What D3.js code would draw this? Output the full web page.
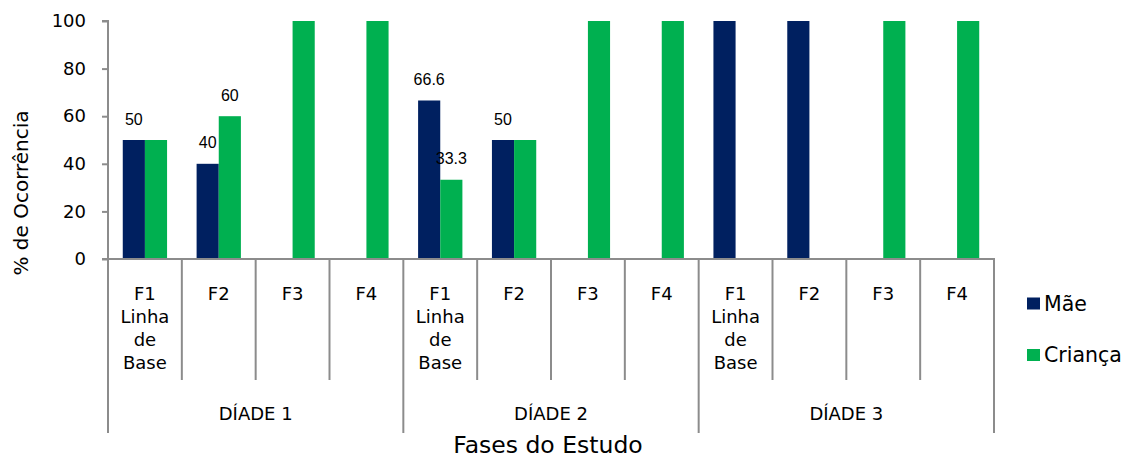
<!DOCTYPE html>
<html>
<head>
<meta charset="utf-8">
<script src="https://cdn.jsdelivr.net/npm/d3@7"></script>
<style>
  body { margin: 0; background: #fff; }
  svg { display: block; }
</style>
</head>
<body>
<svg id="chart" width="1126" height="458"></svg>
<script>
// ---- data ----
const dyads = ["DÍADE 1", "DÍADE 2", "DÍADE 3"];
const phases = [["F1", "Linha", "de", "Base"], ["F2"], ["F3"], ["F4"]];
const seriesNames = ["Mãe", "Criança"];
const maeValues = [50, 40, null, null, 66.6, 50, null, null, 100, 100, null, null];
const criancaValues = [50, 60, 100, 100, 33.3, 50, 100, 100, null, null, 100, 100];
const maeLabels = ["50", "40", null, null, "66.6", "50", null, null, null, null, null, null];
const criancaLabels = [null, "60", null, null, "33.3", null, null, null, null, null, null, null];
const yTicks = [0, 20, 40, 60, 80, 100];
const yTitle = "% de Ocorrência";
const xTitle = "Fases do Estudo";

// ---- layout ----
const svg = d3.select("#chart");
const pLeft = 108, pRight = 994, pTop = 21, pBottom = 259;
const colors = ["#002060", "#00B050"];
const axisColor = "#8c8c8c";
const mainFont = "'DejaVu Sans', Verdana, sans-serif";
const labelFont = "'Liberation Sans', Arial, sans-serif";

const cats = [];
dyads.forEach((d, di) => phases.forEach((p, pi) => cats.push({ key: di + "-" + pi, dyad: d, di, phase: p })));

const x = d3.scaleBand().domain(cats.map(c => c.key)).range([pLeft, pRight]).padding(0);
const y = d3.scaleLinear().domain([0, 100]).range([pBottom, pTop]);
const bw = x.bandwidth();
const sub = d3.scaleBand().domain(seriesNames).range([0.2 * bw, 0.8 * bw]).padding(0);

const seriesData = [maeValues, criancaValues];
const seriesLabels = [maeLabels, criancaLabels];

// bars
seriesNames.forEach((s, si) => {
  svg.append("g").selectAll("rect")
    .data(cats.map((c, i) => ({ c, v: seriesData[si][i] })).filter(d => d.v != null))
    .join("rect")
    .attr("x", d => x(d.c.key) + sub(s))
    .attr("width", sub.bandwidth())
    .attr("y", d => y(d.v))
    .attr("height", d => y(0) - y(d.v))
    .attr("fill", colors[si]);
});

// data labels
seriesNames.forEach((s, si) => {
  svg.append("g").selectAll("text")
    .data(cats.map((c, i) => ({ c, v: seriesData[si][i], l: seriesLabels[si][i] })).filter(d => d.l != null))
    .join("text")
    .attr("x", d => x(d.c.key) + sub(s) + sub.bandwidth() / 2)
    .attr("y", d => y(d.v) - 21)
    .attr("text-anchor", "middle")
    .attr("dominant-baseline", "central")
    .attr("font-family", labelFont)
    .attr("font-size", 16)
    .attr("fill", "#000")
    .text(d => d.l);
});

// y axis
const yAxis = d3.axisLeft(y).tickValues(yTicks).tickSize(6).tickPadding(16);
const gy = svg.append("g").attr("transform", `translate(${pLeft},0)`).call(yAxis);
gy.select(".domain").attr("stroke", axisColor).attr("stroke-width", 2).attr("d", `M-6,${pTop}H0V${pBottom}`);
gy.selectAll(".tick line").attr("stroke", axisColor).attr("stroke-width", 2);
gy.selectAll(".tick text").attr("font-family", mainFont).attr("font-size", 18).attr("fill", "#000");

// x axis line
svg.append("line")
  .attr("x1", pLeft - 6).attr("x2", pRight + 1).attr("y1", pBottom).attr("y2", pBottom)
  .attr("stroke", axisColor).attr("stroke-width", 2);

// category dividers
const boundaries = cats.map(c => x(c.key)).concat([pRight]);
svg.append("g").selectAll("line")
  .data(boundaries)
  .join("line")
  .attr("x1", d => d).attr("x2", d => d)
  .attr("y1", pBottom)
  .attr("y2", (d, i) => (i % phases.length === 0) ? 433 : 380)
  .attr("stroke", axisColor).attr("stroke-width", 2);

// phase labels
const pl = svg.append("g").selectAll("text")
  .data(cats)
  .join("text")
  .attr("x", d => x(d.key) + bw / 2)
  .attr("y", 293)
  .attr("text-anchor", "middle")
  .attr("dominant-baseline", "central")
  .attr("font-family", mainFont)
  .attr("font-size", 18)
  .attr("fill", "#000");
pl.selectAll("tspan")
  .data(d => d.phase)
  .join("tspan")
  .attr("x", function () { return d3.select(this.parentNode).attr("x"); })
  .attr("dy", (d, i) => i === 0 ? 0 : 23)
  .text(d => d);

// dyad labels
svg.append("g").selectAll("text")
  .data(dyads)
  .join("text")
  .attr("x", (d, i) => (x(i + "-0") + x(i + "-" + (phases.length - 1)) + bw) / 2)
  .attr("y", 413)
  .attr("text-anchor", "middle")
  .attr("dominant-baseline", "central")
  .attr("font-family", mainFont)
  .attr("font-size", 18)
  .attr("fill", "#000")
  .text(d => d);

// axis titles
svg.append("text")
  .attr("x", (pLeft + pRight) / 2 - 3).attr("y", 445)
  .attr("text-anchor", "middle").attr("dominant-baseline", "central")
  .attr("font-family", mainFont).attr("font-size", 23.5).attr("fill", "#000")
  .text(xTitle);

svg.append("text")
  .attr("transform", `translate(21,193) rotate(-90)`)
  .attr("text-anchor", "middle").attr("dominant-baseline", "central")
  .attr("font-family", mainFont).attr("font-size", 20).attr("fill", "#000")
  .text(yTitle);

// legend
const lg = svg.append("g").selectAll("g")
  .data(seriesNames)
  .join("g")
  .attr("transform", (d, i) => `translate(1027,${303.5 + i * 51.5})`);
lg.append("rect").attr("x", 0).attr("y", -6).attr("width", 13).attr("height", 12)
  .attr("fill", (d, i) => colors[i]);
lg.append("text").attr("x", 17).attr("y", 0).attr("dominant-baseline", "central")
  .attr("font-family", mainFont).attr("font-size", 20.5).attr("fill", "#000")
  .text(d => d);
</script>
</body>
</html>
